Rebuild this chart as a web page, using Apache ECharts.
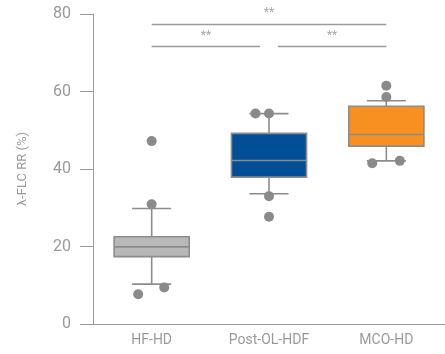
<!DOCTYPE html>
<html><head><meta charset="utf-8">
<script src="https://cdn.jsdelivr.net/npm/echarts@6/dist/echarts.min.js"></script>
<style>html,body{margin:0;padding:0;background:#fff}#c{width:445px;height:354px}</style>
</head><body><div id="c"></div>
<script>
const categories = ['HF-HD', 'Post-OL-HDF', 'MCO-HD'];
// [whiskerLow, Q1, median, Q3, whiskerHigh]
const boxStats = [
  [10.3, 17.4, 19.9, 22.5, 29.8],
  [33.6, 37.9, 42.2, 49.2, 54.3],
  [42.1, 45.9, 48.9, 56.2, 57.6]
];
const boxColors = ['#b9b8b8', '#004f96', '#f7901e'];
// outliers: [x position (category index + jitter), value]
const outliers = [
  [0, 47.2], [0, 30.9], [-0.115, 7.7], [0.107, 9.4],
  [0.885, 54.3], [1, 54.3], [1, 33.0], [1, 27.7],
  [2, 61.5], [2, 58.6], [1.88, 41.5], [2.115, 42.1]
];
// significance brackets: [xStart, xEnd, yLevel, label]
const brackets = [
  [0, 2, 77.3, '**'],
  [0, 0.925, 71.6, '**'],
  [1.075, 2, 71.6, '**']
];
const yTicks = {min: 0, max: 80, interval: 20};

const gray = '#8c8c8c';
const chart = echarts.init(document.getElementById('c'), null, {renderer: 'canvas'});
chart.setOption({
  animation: false,
  grid: {left: 93, top: 14, bottom: 30, right: -14},
  xAxis: [{
    type: 'category', data: categories,
    axisLine: {onZero: false, lineStyle: {color: '#9a9a9a', width: 1}},
    axisTick: {show: false},
    axisLabel: {color: '#9a9a9a', fontSize: 14, fontFamily: 'Roboto', margin: 9}
  }, {
    type: 'value', min: -0.5, max: 2.5, show: false
  }],
  yAxis: {
    type: 'value', min: yTicks.min, max: yTicks.max, interval: yTicks.interval,
    name: 'λ-FLC RR (%)', nameLocation: 'middle', nameGap: 64,
    nameTextStyle: {color: '#9a9a9a', fontSize: 13, fontFamily: 'Roboto'},
    axisLine: {show: true, onZero: false, lineStyle: {color: '#9a9a9a', width: 1}},
    axisTick: {show: true, length: 13, lineStyle: {color: '#9a9a9a'}},
    splitLine: {show: false},
    axisLabel: {color: '#9a9a9a', fontSize: 16, fontFamily: 'Roboto', margin: 22}
  },
  series: [{
    type: 'custom',
    xAxisIndex: 0,
    data: boxStats.map((s, i) => [i].concat(s)),
    renderItem: function (params, api) {
      const i = api.value(0);
      const bw = api.size([1, 0])[0] * 0.64;
      const capW = bw * 0.52;
      const pLow = api.coord([i, api.value(1)]);
      const pQ1 = api.coord([i, api.value(2)]);
      const pMed = api.coord([i, api.value(3)]);
      const pQ3 = api.coord([i, api.value(4)]);
      const pHigh = api.coord([i, api.value(5)]);
      const x = pMed[0];
      const ls = {stroke: gray, lineWidth: 1.6};
      return {
        type: 'group',
        children: [
          {type: 'line', shape: {x1: x, y1: pQ3[1], x2: x, y2: pHigh[1]}, style: ls},
          {type: 'line', shape: {x1: x, y1: pQ1[1], x2: x, y2: pLow[1]}, style: ls},
          {type: 'line', shape: {x1: x - capW / 2, y1: pHigh[1], x2: x + capW / 2, y2: pHigh[1]}, style: ls},
          {type: 'line', shape: {x1: x - capW / 2, y1: pLow[1], x2: x + capW / 2, y2: pLow[1]}, style: ls},
          {type: 'rect', shape: {x: x - bw / 2, y: pQ3[1], width: bw, height: pQ1[1] - pQ3[1]},
            style: {fill: boxColors[i], stroke: gray, lineWidth: 1.6}},
          {type: 'line', shape: {x1: x - bw / 2, y1: pMed[1], x2: x + bw / 2, y2: pMed[1]}, style: ls}
        ]
      };
    }
  }, {
    type: 'scatter',
    xAxisIndex: 1,
    data: outliers,
    symbolSize: 10,
    itemStyle: {color: '#8a8a8d', opacity: 1},
    z: 5
  }, {
    type: 'custom',
    xAxisIndex: 1,
    data: brackets,
    renderItem: function (params, api) {
      const p0 = api.coord([api.value(0), api.value(2)]);
      const p1 = api.coord([api.value(1), api.value(2)]);
      const label = brackets[params.dataIndex][3];
      return {
        type: 'group',
        children: [
          {type: 'line', shape: {x1: p0[0], y1: p0[1], x2: p1[0], y2: p1[1]}, style: {stroke: '#9a9a9a', lineWidth: 1.5}},
          {type: 'text', x: (p0[0] + p1[0]) / 2, y: p0[1] - 5,
            style: {text: label, fill: '#a8a8a8', fontSize: 12, fontFamily: 'Roboto', align: 'center', verticalAlign: 'bottom'}}
        ]
      };
    }
  }]
});
</script></body></html>
